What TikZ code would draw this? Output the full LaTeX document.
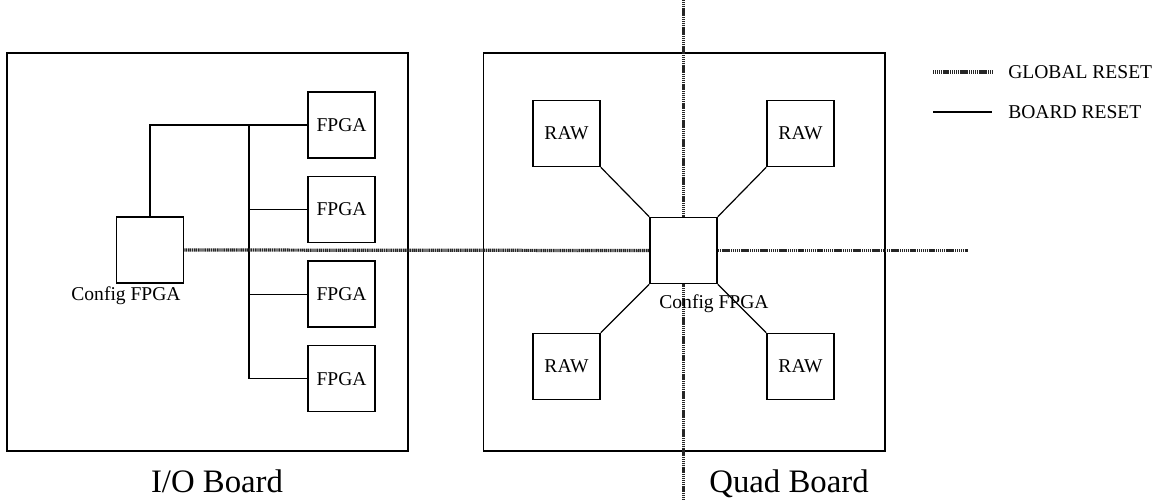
\documentclass[tikz,border=0pt]{standalone}
\usepackage{fontspec}
\setmainfont{Liberation Serif}
\usetikzlibrary{positioning}

\begin{document}
\begin{tikzpicture}[x=0.025cm,y=-0.025cm,font=\fontsize{13.9}{16}\selectfont,node distance=0.425cm,
 board/.style={draw,line width=1.2pt,minimum width=10.03cm,minimum height=9.95cm,inner sep=0pt},
 chip/.style={draw,fill=white,line width=1.1pt,minimum width=1.675cm,minimum height=1.65cm,inner sep=0pt},
 txt/.style={inner sep=0pt,anchor=base},
 boardname/.style={txt,font=\fontsize{23.3}{28}\selectfont},
 breset/.style={line width=0.85pt},
 greset/.style={line width=2.3pt,black!85,dash pattern=on 0.9pt off 0.45pt}]
\useasboundingbox (0,0) rectangle (1161,500);
\node[board] (io) at (207.5,252) {};
\node[board] (quad) at (684,252) {};
\node[boardname] (iolbl) at (217,492) {I/O Board};
\node[boardname] (quadlbl) at (789,492) {Quad Board};

\node[chip] (cfgio) at (150,250) {};
\node[chip] (fpga1) at (341.5,125) {FPGA};
\node[chip,below=of fpga1] (fpga2) {FPGA};
\node[chip,below=of fpga2] (fpga3) {FPGA};
\node[chip,below=of fpga3] (fpga4) {FPGA};
\coordinate (bus) at (249,125);
\draw[breset] (cfgio.north) |- (fpga1.west);
\draw[breset] (bus) |- (fpga4.west);
\foreach \i in {2,3}
 \draw[breset] (bus |- fpga\i.west) -- (fpga\i.west);

\node[chip] (cfgq) at (683.5,250.5) {};
\node[chip] (rawnw) at (566.5,133.5) {RAW};
\node[chip] (rawne) at (800.5,133.5) {RAW};
\node[chip] (rawsw) at (566.5,366.5) {RAW};
\node[chip] (rawse) at (800.5,366.5) {RAW};
\draw[breset] (rawnw.south east) -- (cfgq.north west);
\draw[breset] (rawne.south west) -- (cfgq.north east);
\draw[breset] (rawsw.north east) -- (cfgq.south west);
\draw[breset] (rawse.north west) -- (cfgq.south east);

\coordinate (gtop) at (683.5,0);
\coordinate (gbot) at (683.5,500);
\coordinate (gend) at (968,250.5);
\draw[greset] (cfgio.east) -- (cfgq.west);
\draw[greset] (cfgq.east) -- (gend);
\draw[greset] (gtop) -- (cfgq.north);
\draw[greset] (cfgq.south) -- (gbot);
\node[txt] (cfgiolbl) at (126,300) {Config FPGA};
\node[txt] (cfgqlbl) at (714,308) {Config FPGA};

\coordinate (gl1) at (933,72);
\coordinate (gl2) at (992,72);
\coordinate (bl1) at (933,112);
\coordinate (bl2) at (992,112);
\draw[greset] (gl1) -- (gl2);
\draw[breset] (bl1) -- (bl2);
\node[inner sep=0pt,anchor=west] (glbl) at (1008,72) {GLOBAL RESET};
\node[inner sep=0pt,anchor=west] (blbl) at (1008,112) {BOARD RESET};
\end{tikzpicture}
\end{document}
